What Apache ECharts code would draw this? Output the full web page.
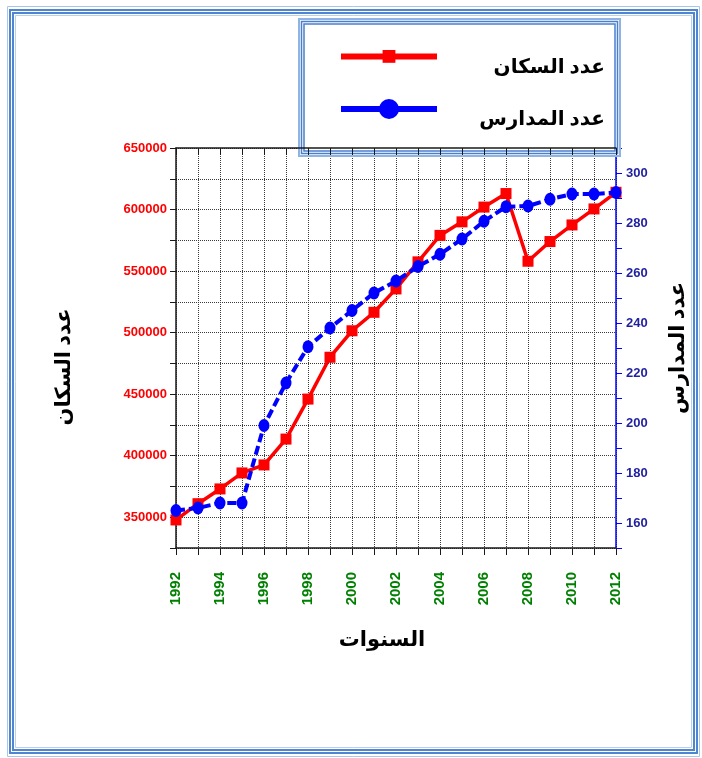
<!DOCTYPE html>
<html>
<head>
<meta charset="utf-8">
<script src="https://cdn.jsdelivr.net/npm/echarts@6/dist/echarts.min.js"></script>
<style>
  html, body { margin: 0; padding: 0; background: #ffffff; }
  #chart { width: 702px; height: 758px; }
</style>
</head>
<body>
<div id="chart"></div>
<script>
// Years on the horizontal axis
const years = ['1992','1993','1994','1995','1996','1997','1998','1999','2000','2001','2002',
               '2003','2004','2005','2006','2007','2008','2009','2010','2011','2012'];
// Population count per year (left axis)
const population = [347800, 361000, 373000, 386000, 392500, 413500, 446000, 480000, 501500, 516500, 535500,
                    557500, 579000, 590000, 602000, 613000, 558000, 574000, 587500, 600500, 614000];
// Number of schools per year (right axis)
const schools = [165, 166, 168, 168, 199, 216, 230.5, 238, 245, 252, 256.8,
                 262.6, 267.5, 273.6, 280.7, 286.5, 286.8, 289.5, 291.6, 291.6, 292.2];
// Series / axis names
const popName = 'عدد السكان';
const schoolName = 'عدد المدارس';
const yearsTitle = 'السنوات';

const arabicFont = "'Times New Roman', 'DejaVu Sans', serif";
const numFont = "'Liberation Sans', Arial, sans-serif";
const gridDots = { color: '#3a3a3a', width: 1, type: [1, 1] };

const chart = echarts.init(document.getElementById('chart'), null, { renderer: 'canvas' });

function legendFor(name, top, itemHeight) {
  return {
    data: [name],
    orient: 'vertical',
    left: 338,
    top: top,
    padding: 0,
    z: 20,
    itemWidth: 96,
    itemHeight: itemHeight,
    selectedMode: false,
    lineStyle: { width: 6, type: 'solid' },
    formatter: n => '{t|' + n + '}',
    textStyle: {
      padding: [22, 0, 0, 0],
      rich: {
        t: { width: 163, align: 'right', fontSize: 20, fontWeight: 'bold',
             fontFamily: arabicFont, color: '#000' }
      }
    }
  };
}

function box(x, y, w, h, stroke, lw, fill, z) {
  return { type: 'rect', z: z, silent: true,
           shape: { x: x, y: y, width: w, height: h },
           style: { fill: fill || 'none', stroke: stroke, lineWidth: lw } };
}

const option = {
  backgroundColor: '#ffffff',
  animation: false,
  grid: { left: 176, right: 86, top: 148, bottom: 210, containLabel: false },
  legend: [
    legendFor(popName, 50, 16),
    legendFor(schoolName, 99, 25)
  ],
  xAxis: [
    {
      type: 'category',
      data: years,
      boundaryGap: false,
      position: 'bottom',
      axisLine: { lineStyle: { color: '#1a1a1a', width: 1.5 } },
      axisTick: { show: true, inside: false, length: 7, interval: 0, lineStyle: { color: '#1a1a1a' } },
      axisLabel: {
        interval: 1, rotate: 90, margin: 24,
        color: '#008000', fontSize: 15, fontWeight: 'bold', fontFamily: numFont
      },
      splitLine: { show: true, interval: 0, lineStyle: gridDots }
    },
    {
      type: 'category',
      data: years,
      boundaryGap: false,
      position: 'top',
      z: 16,
      axisLine: { lineStyle: { color: '#1a1a1a', width: 1.5 } },
      axisTick: { show: true, inside: true, length: 7, interval: 0, lineStyle: { color: '#1a1a1a' } },
      axisLabel: { show: false },
      splitLine: { show: false }
    }
  ],
  yAxis: [
    {
      type: 'value',
      position: 'left',
      min: 325000, max: 650000, interval: 25000,
      axisLine: { show: true, lineStyle: { color: '#1a1a1a', width: 1.5 } },
      axisTick: { show: true, inside: false, length: 6, lineStyle: { color: '#1a1a1a' } },
      axisLabel: {
        margin: 9, color: '#ff0000', fontSize: 13, fontWeight: 'bold', fontFamily: numFont,
        formatter: v => (v % 50000 === 0 ? String(v) : '')
      },
      splitLine: { show: true, lineStyle: gridDots }
    },
    {
      type: 'value',
      position: 'right',
      min: 150, max: 310, interval: 10,
      axisLine: { show: true, lineStyle: { color: '#0000ff', width: 1.5 } },
      axisTick: { show: true, inside: false, length: 6, lineStyle: { color: '#0000ff' } },
      axisLabel: {
        margin: 10, color: '#1f1fa0', fontSize: 13, fontWeight: 'bold', fontFamily: numFont,
        formatter: v => (v % 20 === 0 && v >= 160 && v <= 300 ? String(v) : '')
      },
      splitLine: { show: false }
    }
  ],
  series: [
    {
      name: popName,
      type: 'line',
      xAxisIndex: 0,
      yAxisIndex: 0,
      data: population,
      symbol: 'rect',
      symbolSize: 11,
      z: 3,
      color: '#ff0000',
      itemStyle: { color: '#ff0000' },
      lineStyle: { color: '#ff0000', width: 3.5 }
    },
    {
      name: schoolName,
      type: 'line',
      xAxisIndex: 0,
      yAxisIndex: 1,
      data: schools,
      symbol: 'circle',
      symbolSize: [11, 13],
      z: 4,
      color: '#0000ff',
      itemStyle: { color: '#0000ff' },
      lineStyle: { color: '#0000ff', width: 4, type: [9, 4] }
    }
  ],
  graphic: [
    // page frame
    box(7.5, 6.5, 692, 750, '#a8c6ec', 1, null, 1),
    box(10, 10, 687, 743, '#4f86d2', 2, null, 1),
    box(13, 13, 681, 737, '#4f86d2', 2, null, 1),
    box(15.5, 15.5, 676, 732, '#b8d0f0', 1, null, 1),
    // legend frame
    box(299, 19, 321, 137, '#8fb4e3', 2, '#ffffff', 15),
    box(301.5, 21.5, 316, 132, '#4a7fcf', 1.5, null, 15),
    box(304, 24, 311, 127, '#4a7fcf', 1.5, null, 15),
    // axis titles
    {
      type: 'text', z: 10, silent: true,
      x: 65, y: 367, rotation: Math.PI / 2,
      style: { text: popName, fontSize: 21, fontWeight: 'bold', fontFamily: arabicFont,
               fill: '#000', align: 'center', verticalAlign: 'middle' }
    },
    {
      type: 'text', z: 10, silent: true,
      x: 679, y: 348, rotation: Math.PI / 2,
      style: { text: schoolName, fontSize: 21, fontWeight: 'bold', fontFamily: arabicFont,
               fill: '#000', align: 'center', verticalAlign: 'middle' }
    },
    {
      type: 'text', z: 10, silent: true,
      x: 382, y: 641,
      style: { text: yearsTitle, fontSize: 21, fontWeight: 'bold', fontFamily: arabicFont,
               fill: '#000', align: 'center', verticalAlign: 'middle' }
    }
  ]
};

chart.setOption(option);
</script>
</body>
</html>
